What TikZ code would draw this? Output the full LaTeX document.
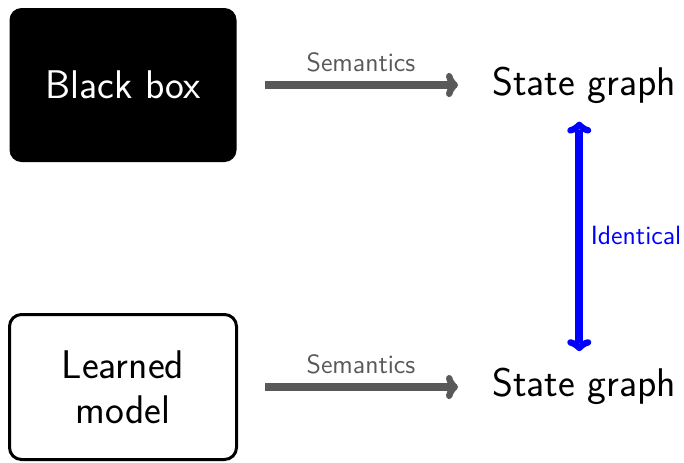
\documentclass[tikz,border=0pt]{standalone}
\usetikzlibrary{arrows.meta, positioning}
\definecolor{semgray}{gray}{0.35}

\begin{document}
\begin{tikzpicture}[x=0.5pt, y=-0.5pt,
	box/.style={rectangle, rounded corners=6pt, minimum width=113.5pt, line width=1.5pt, align=center},
	big/.style={font=\sffamily\fontsize{20}{22.5}\selectfont},
	small/.style={font=\sffamily\fontsize{13.2}{15}\selectfont},
	sem/.style={line width=4pt, draw=semgray, -{Classical TikZ Rightarrow[length=6pt, width=12pt, round]}},
]
	\useasboundingbox (0,0) rectangle (684,462);
	\node[box, fill=black, text=white, minimum height=77pt, big] (black) at (123,85) {Black box};
	\node[box, draw=black, fill=white, minimum height=72.5pt, big] (learned) at (123,387) {Learned\\model};
	\node[big, inner sep=0pt, anchor=base west] (stateA) at (492,95) {State graph};
	\node[big, inner sep=0pt, anchor=base west] (stateB) at (492,396) {State graph};
	\draw[sem, shorten <=13.5pt, shorten >=17pt]
	(black.east) -- node[above=1pt, xshift=-2pt, small, text=semgray] (semA) {Semantics} (stateA.west |- black.east);
	\draw[sem, shorten <=13.5pt, shorten >=17pt]
	(learned.east) -- node[above=1pt, xshift=-2pt, small, text=semgray] (semB) {Semantics} (stateB.west |- learned.east);
	\draw[line width=4pt, blue, {Classical TikZ Rightarrow[length=6pt, width=12pt, round]}-{Classical TikZ Rightarrow[length=6pt, width=12pt, round]}, shorten <=9pt, shorten >=8pt]
	([xshift=-2.5pt]stateA.south) -- node[right=0.5pt, small, text=blue] (same) {Identical} ([xshift=-2.5pt]stateB.north);
\end{tikzpicture}
\end{document}
